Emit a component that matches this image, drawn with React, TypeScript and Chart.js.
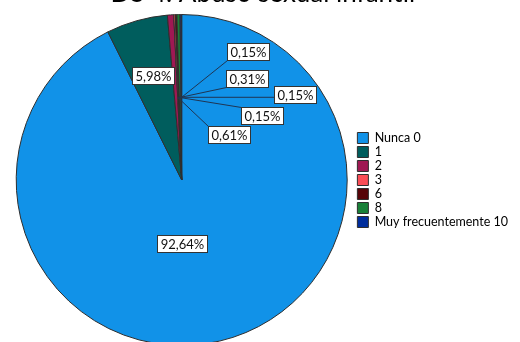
import React, { useEffect, useRef } from "react";
import { Chart, registerables } from "chart.js";

Chart.register(...registerables);

const chartTitle = "DS 4. Abuso sexual infantil";
const categories = ["Nunca 0", "1", "2", "3", "6", "8", "Muy frecuentemente 10"];
const counts = [604, 39, 4, 1, 1, 2, 1];
const sliceColors = ["#1192e8", "#005d5d", "#9f1853", "#fa4d56", "#570408", "#198038", "#002d9c"];

// label box centres relative to pie centre, in units of the radius (layout only)
const labelPlacement = [
  { dx: 0.0, dy: 0.384, leader: false },
  { dx: -0.172, dy: -0.634, leader: false },
  { dx: 0.284, dy: -0.272, leader: true },
  { dx: 0.486, dy: -0.39, leader: true },
  { dx: 0.683, dy: -0.514, leader: true },
  { dx: 0.396, dy: -0.613, leader: true },
  { dx: 0.399, dy: -0.776, leader: true },
];

const FONT = "Lato, 'DejaVu Sans', sans-serif";

const pctLabels = {
  id: "pctLabels",
  afterDatasetsDraw(chart: any) {
    const meta = chart.getDatasetMeta(0);
    const ctx = chart.ctx as CanvasRenderingContext2D;
    const data = chart.data.datasets[0].data as number[];
    const total = data.reduce((a, b) => a + b, 0);
    ctx.save();
    ctx.font = `13px ${FONT}`;
    ctx.textAlign = "center";
    ctx.textBaseline = "middle";
    meta.data.forEach((arc: any, i: number) => {
      const p = arc.getProps(["x", "y", "startAngle", "endAngle", "outerRadius"], true);
      const place = labelPlacement[i];
      const text = ((data[i] / total) * 100).toFixed(2).replace(".", ",") + "%";
      const cx = p.x + place.dx * p.outerRadius;
      const cy = p.y + place.dy * p.outerRadius;
      const tw = ctx.measureText(text).width;
      const w = Math.round(tw + 6);
      const h = 17;
      const bx = Math.round(cx - w / 2) + 0.5;
      const by = Math.round(cy - h / 2) + 0.5;
      if (place.leader) {
        const ang = p.endAngle;
        const ax = p.x + Math.cos(ang) * p.outerRadius * 0.5;
        const ay = p.y + Math.sin(ang) * p.outerRadius * 0.5;
        const ex = Math.min(Math.max(ax, bx), bx + w);
        const ey = Math.min(Math.max(ay, by), by + h);
        ctx.beginPath();
        ctx.moveTo(ax, ay);
        ctx.lineTo(ex, ey);
        ctx.strokeStyle = "#1f3553";
        ctx.lineWidth = 1;
        ctx.stroke();
      }
      ctx.fillStyle = "#ffffff";
      ctx.fillRect(bx, by, w, h);
      ctx.strokeStyle = "#333333";
      ctx.lineWidth = 1;
      ctx.strokeRect(bx, by, w, h);
      ctx.fillStyle = "#111111";
      ctx.fillText(text, bx + w / 2, by + h / 2 + 0.5);
    });
    ctx.restore();
  },
};

export default function App() {
  const ref = useRef<HTMLCanvasElement | null>(null);
  useEffect(() => {
    if (!ref.current) return;
    const chart = new Chart(ref.current, {
      type: "pie",
      data: {
        labels: categories,
        datasets: [
          {
            data: counts,
            backgroundColor: sliceColors,
            borderColor: "#2e2e2e",
            borderWidth: 1,
          },
        ],
      },
      options: {
        responsive: false,
        animation: false,
        layout: { padding: { left: 7.5, right: 2, top: 0, bottom: 0 } },
        plugins: {
          title: {
            display: true,
            text: chartTitle,
            color: "#000",
            font: { family: FONT, size: 26, weight: "normal" },
            padding: { top: 8.4, bottom: 4.4 },
          },
          legend: {
            position: "right",
            fullSize: false,
            labels: {
              boxWidth: 11,
              boxHeight: 11,
              padding: 1.5,
              color: "#000",
              font: { family: FONT, size: 12.5 },
            },
          },
          tooltip: { enabled: false },
        },
      } as any,
      plugins: [pctLabels],
    });
    return () => chart.destroy();
  }, []);
  return (
    <div style={{ position: "absolute", left: 0, top: -30, width: 520, height: 376, overflow: "hidden" }}>
      <canvas ref={ref} width={520} height={376} style={{ width: 520, height: 376, display: "block" }} />
    </div>
  );
}
